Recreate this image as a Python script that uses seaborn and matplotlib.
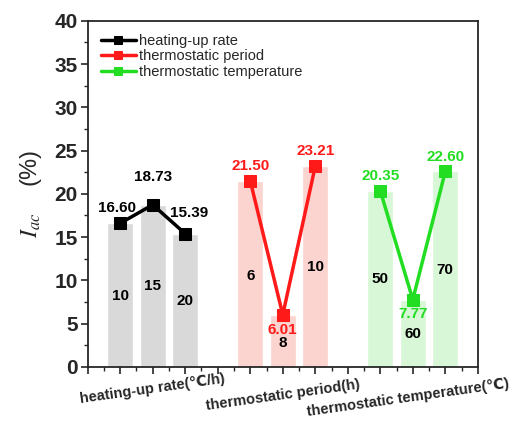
import numpy as np
import pandas as pd
import matplotlib
matplotlib.use("Agg")
import matplotlib.pyplot as plt
import seaborn as sns

# Data
groups = ["heating-up rate", "thermostatic period", "thermostatic temperature"]
axis_names = ["heating-up rate(℃/h)", "thermostatic period(h)", "thermostatic temperature(℃)"]
rate_levels = ["10", "15", "20"]
period_levels = ["6", "8", "10"]
temp_levels = ["50", "60", "70"]
rate_values = [16.60, 18.73, 15.39]
period_values = [21.50, 6.01, 23.21]
temp_values = [20.35, 7.77, 22.60]
positions = [[1, 2, 3], [5, 6, 7], [9, 10, 11]]

# heights where the level labels sit inside the bars
level_label_y = [[8.2, 9.3, 7.6], [10.5, 2.8, 11.5], [10.1, 3.8, 11.2]]

line_colors = ["#000000", "#ff1a1a", "#22dd22"]
bar_colors = ["#d9d9d9", "#fbd3cf", "#d7f7d7"]

sns.set_style("ticks")
plt.rcParams["font.family"] = ["Liberation Sans", "DejaVu Sans"]
plt.rcParams["mathtext.fontset"] = "stix"

levels = [rate_levels, period_levels, temp_levels]
values = [rate_values, period_values, temp_values]

df = pd.DataFrame({
    "pos": np.concatenate(positions),
    "value": np.concatenate(values),
    "group": np.repeat(groups, 3),
    "level": np.concatenate(levels),
})

fig = plt.figure(figsize=(5.16, 4.26), dpi=100)
ax = fig.add_axes([0.170, 0.139, 0.756, 0.812])

# background bars
sns.barplot(data=df, x="pos", y="value", hue="group", palette=bar_colors,
            native_scale=True, width=0.8, dodge=False, saturation=1,
            legend=False, ax=ax, zorder=1)

# lines with square markers
for g, c in zip(groups, line_colors):
    sub = df[df["group"] == g]
    sns.lineplot(x=sub["pos"], y=sub["value"], color=c, marker="s",
                 markersize=8, markeredgecolor=c, linewidth=2.5,
                 label=g, ax=ax, zorder=3)

# value labels and level labels
for i in range(3):
    vals = values[i]
    low = int(np.argmin(vals))
    for j, (x, v) in enumerate(zip(positions[i], vals)):
        col = line_colors[i]
        if i > 0 and j == low:
            ax.text(x, v - 0.9, "{:.2f}".format(v), ha="center", va="top",
                    color=col, fontsize=11, fontweight="bold", zorder=4)
        else:
            dx = 0
            if i == 0 and j == 0:
                dx = -0.1
            if i == 0 and j == 2:
                dx = 0.12
            dy = 2.4 if (i == 0 and j == 1) else 0.9
            if i == 0 and j == 2:
                dy = 1.6
            ax.text(x + dx, v + dy, "{:.2f}".format(v), ha="center", va="bottom",
                    color=col, fontsize=11, fontweight="bold", zorder=4)
        ax.text(x, level_label_y[i][j], levels[i][j], ha="center", va="center",
                color="black", fontsize=11, fontweight="bold", zorder=4)

ax.set_xlim(0, 12)
ax.set_ylim(0, 40)
ax.set_xticks(range(0, 13))
ax.set_xticks(np.arange(0.5, 12, 1), minor=True)
ax.set_xticklabels([])
ax.set_yticks(range(0, 41, 5))
ax.set_yticks(np.arange(2.5, 40, 5), minor=True)
ax.tick_params(axis="y", which="major", labelsize=15, length=5, width=1.2, pad=2)
ax.tick_params(axis="both", which="minor", length=3, width=1)
ax.tick_params(axis="x", which="major", length=5, width=1.2)
for lab in ax.get_yticklabels():
    lab.set_fontweight("bold")
for s in ax.spines.values():
    s.set_linewidth(1.3)
    s.set_visible(True)
ax.set_xlabel("")
ax.set_ylabel(r"$I_{ac}$    (%)", fontsize=17, labelpad=8)

# rotated category names under the axis
name_y = [-0.065, -0.083, -0.09]
name_x = [2, 6, 9.85]
for name, xx, yy in zip(axis_names, name_x, name_y):
    ax.text(xx, yy, name, transform=ax.get_xaxis_transform(),
            ha="center", va="center", rotation=8, rotation_mode="anchor",
            fontsize=10.5, fontweight="bold")

ax.legend(loc="upper left", frameon=False, fontsize=10.5, handlelength=2.4,
          handletextpad=0.2, labelspacing=0.1, borderaxespad=0.5,
          markerscale=0.7)

fig.savefig("out.png", dpi=100)
